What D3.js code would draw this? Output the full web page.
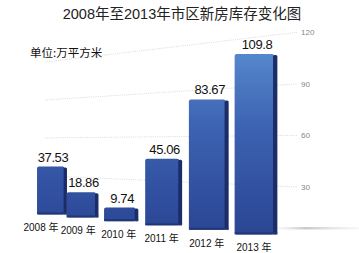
<!DOCTYPE html>
<html>
<head>
<meta charset="utf-8">
<script src="https://cdn.jsdelivr.net/npm/d3@7"></script>
<style>
  body { margin: 0; background: #fff; }
  svg { display: block; }
</style>
</head>
<body>
<div id="chart"></div>
<script>
// daten
var jahre = ["2008 年", "2009 年", "2010 年", "2011 年", "2012 年", "2013 年"];
var werte = [37.53, 18.86, 9.74, 45.06, 83.67, 109.8];
var werteText = ["37.53", "18.86", "9.74", "45.06", "83.67", "109.8"];
var ticks = [30, 60, 90, 120];
var titel = "2008年至2013年市区新房库存变化图";
var einheit = "单位:万平方米";

var width = 359;
var height = 253;

var svg = d3.select("#chart")
    .append("svg")
    .attr("width", width)
    .attr("height", height);

// perspektive: alle linien laufen in einen fluchtpunkt links
var vp = { x: -657, y: 145 };
var refX = 300;
var y = d3.scaleLinear().domain([0, 120]).range([238.7, 32]);
var x = d3.scalePow().exponent(1.18).domain([0, jahre.length - 1]).range([52, 256]);

function tiefe(px) {
    return (px - vp.x) / (refX - vp.x);
}
function proj(px, v) {
    return vp.y + (y(v) - vp.y) * tiefe(px);
}

var defs = svg.append("defs");
var grad = defs.append("linearGradient")
    .attr("id", "front")
    .attr("gradientUnits", "userSpaceOnUse")
    .attr("x1", 0).attr("y1", 40).attr("x2", 0).attr("y2", 235);
grad.append("stop").attr("offset", "0%").attr("stop-color", "#5a8ed1");
grad.append("stop").attr("offset", "45%").attr("stop-color", "#3c62b1");
grad.append("stop").attr("offset", "100%").attr("stop-color", "#2a4594");

var boden = defs.append("linearGradient")
    .attr("id", "boden")
    .attr("x1", 0).attr("x2", 1);
boden.append("stop").attr("offset", "0%").attr("stop-color", "#ddd").attr("stop-opacity", 0);
boden.append("stop").attr("offset", "40%").attr("stop-color", "#bbb").attr("stop-opacity", 0.8);
boden.append("stop").attr("offset", "100%").attr("stop-color", "#ddd").attr("stop-opacity", 0.2);

// titel
svg.append("text")
    .attr("x", 182)
    .attr("y", 19)
    .attr("text-anchor", "middle")
    .style("font-family", "'Liberation Sans', 'Noto Sans CJK SC', sans-serif")
    .style("font-size", "14.5px")
    .style("fill", "#222")
    .text(titel);

// gitterlinien
var xStart = 45, xEnd = 297;
svg.selectAll("line.grid")
    .data(ticks)
    .enter()
    .append("line")
    .attr("class", "grid")
    .attr("x1", xStart)
    .attr("y1", d => proj(xStart, d))
    .attr("x2", xEnd)
    .attr("y2", d => proj(xEnd, d))
    .style("stroke", "#cfcfcf")
    .style("stroke-width", 0.8)
    .style("stroke-dasharray", "1,1.2");

svg.selectAll("text.tick")
    .data(ticks)
    .enter()
    .append("text")
    .attr("class", "tick")
    .attr("x", 301)
    .attr("y", d => proj(xEnd, d) + 3)
    .style("font-family", "'Liberation Sans', sans-serif")
    .style("font-size", "8px")
    .style("fill", "#888")
    .text(d => d);

// boden schatten
svg.append("rect")
    .attr("x", 270)
    .attr("y", 227)
    .attr("width", 89)
    .attr("height", 2.5)
    .attr("fill", "url(#boden)");

// einheit
svg.append("text")
    .attr("x", 30)
    .attr("y", 57)
    .style("font-family", "'Noto Sans CJK SC', sans-serif")
    .style("font-size", "11.5px")
    .style("fill", "#111")
    .text(einheit);

// balken
var balken = svg.selectAll("g.bar")
    .data(werte)
    .enter()
    .append("g")
    .attr("class", "bar");

balken.each(function (d, i) {
    var g = d3.select(this);
    var cx = x(i);
    var f = tiefe(cx);
    var w = 60 * f - 14.5;
    var seite = 4.5 * f;
    var basis = proj(cx, 0);
    var oben = proj(cx, d);
    // vorderseite
    g.append("rect")
        .attr("x", cx - w / 2)
        .attr("y", oben)
        .attr("width", w - seite + 1)
        .attr("height", basis - oben)
        .attr("rx", 2)
        .attr("fill", "url(#front)");
    // seite rechts
    g.append("rect")
        .attr("x", cx + w / 2 - seite)
        .attr("y", oben + 1)
        .attr("width", seite)
        .attr("height", basis - oben - 1)
        .attr("rx", 1.5)
        .attr("fill", "#1b2c68");
    // untere kante
    g.append("rect")
        .attr("x", cx - w / 2)
        .attr("y", basis - 2)
        .attr("width", w)
        .attr("height", 2)
        .attr("fill", "#203677");
});

// werte
svg.selectAll("text.wert")
    .data(werteText)
    .enter()
    .append("text")
    .attr("class", "wert")
    .attr("x", (d, i) => x(i) + 1)
    .attr("y", (d, i) => proj(x(i), werte[i]) - 5)
    .attr("text-anchor", "middle")
    .style("font-family", "'Liberation Sans', sans-serif")
    .style("font-size", "13px")
    .style("letter-spacing", "-0.4px")
    .style("fill", "#111")
    .text(d => d);

// jahre
svg.selectAll("text.jahr")
    .data(jahre)
    .enter()
    .append("text")
    .attr("class", "jahr")
    .attr("x", (d, i) => x(i) - 2 - 9 * Math.pow(1 - i / (jahre.length - 1), 6))
    .attr("y", (d, i) => proj(x(i), 0) + 17)
    .attr("text-anchor", "middle")
    .style("font-family", "'Liberation Sans', 'Noto Sans CJK SC', sans-serif")
    .style("font-size", "10px")
    .style("fill", "#111")
    .text(d => d);
</script>
</body>
</html>
